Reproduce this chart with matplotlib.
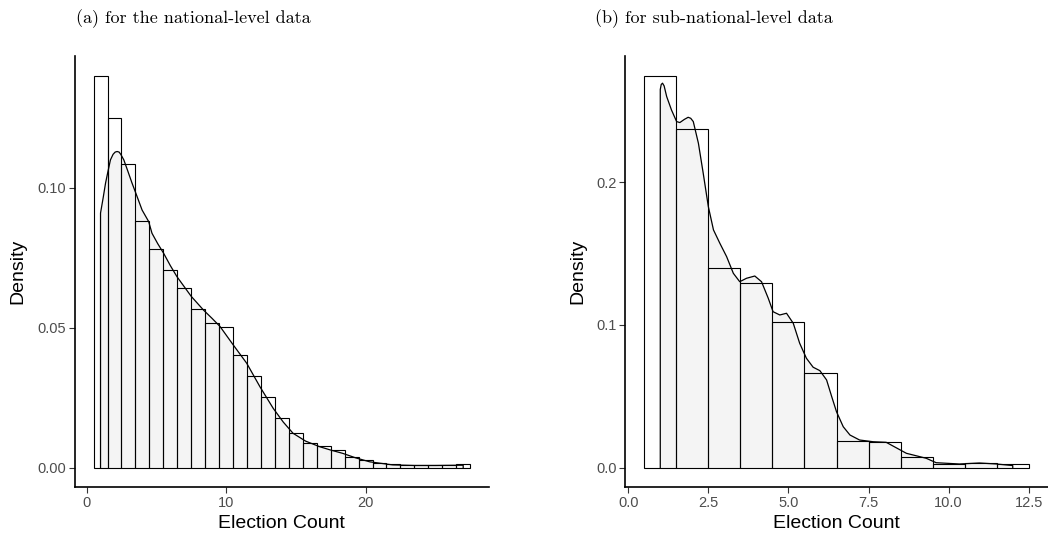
import numpy as np
import matplotlib
matplotlib.use("Agg")
from matplotlib import pyplot as plt

# histogram bins (width 1, centred on the integers) and densities
nat_edges = np.arange(0.5, 28.0, 1.0)
nat_dens = [0.140, 0.1248, 0.1085, 0.0882, 0.0781, 0.0706, 0.0643, 0.0567, 0.0517,
            0.0504, 0.0404, 0.0328, 0.0251, 0.0176, 0.0125, 0.0087, 0.0076, 0.0062,
            0.0037, 0.0026, 0.0016, 0.0012, 0.0010, 0.0009, 0.0008, 0.0008, 0.0012]

sub_edges = np.arange(0.5, 13.0, 1.0)
sub_dens = [0.2747, 0.2371, 0.1397, 0.1296, 0.1023, 0.0666, 0.0187, 0.0178,
            0.0077, 0.0024, 0.0035, 0.0024]

# kernel density curves
nat_kde_x = [1.0, 1.19, 1.36, 1.5, 1.71, 1.9, 2.05, 2.19, 2.33, 2.45, 2.67, 2.95,
             3.26, 3.57, 3.98, 4.45, 4.69, 5.1, 5.52, 6.0, 6.48, 7.5, 8.38, 9.0,
             9.57, 10.52, 11.48, 12.43, 13.38, 14.1, 14.8, 15.7, 16.71, 17.5, 18.38,
             19.3, 20.3, 21.95, 23.5, 25.0, 27.0]
nat_kde_y = [0.0909, 0.0964, 0.1016, 0.105, 0.1099, 0.1119, 0.1127, 0.1129, 0.1127,
             0.1119, 0.1099, 0.106, 0.1016, 0.0975, 0.092, 0.0879, 0.0837, 0.0800,
             0.0766, 0.0722, 0.0682, 0.0612, 0.0563, 0.0533, 0.0504, 0.0438, 0.0373,
             0.0289, 0.0212, 0.0163, 0.0123, 0.0095, 0.0075, 0.0063, 0.0051, 0.0035,
             0.0021, 0.0010, 0.0008, 0.0008, 0.0009]

sub_kde_x = [1.0, 1.03, 1.07, 1.12, 1.2, 1.35, 1.51, 1.61, 1.75, 1.87, 1.95, 2.03,
             2.19, 2.34, 2.5, 2.66, 2.86, 3.07, 3.28, 3.48, 3.69, 3.95, 4.16, 4.37,
             4.52, 4.73, 4.94, 5.15, 5.35, 5.56, 5.77, 5.98, 6.19, 6.35, 6.5, 6.71,
             6.92, 7.22, 7.64, 8.05, 8.68, 9.3, 9.61, 10.34, 10.96, 11.49, 12.0]
sub_kde_y = [0.265, 0.2685, 0.2694, 0.2675, 0.26, 0.2506, 0.2425, 0.2418, 0.244,
             0.2455, 0.2448, 0.2425, 0.2273, 0.2063, 0.1829, 0.1666, 0.1572, 0.1479,
             0.1362, 0.1303, 0.1327, 0.1343, 0.1303, 0.1187, 0.1093, 0.107, 0.1082,
             0.1012, 0.0872, 0.0767, 0.0704, 0.068, 0.0615, 0.0498, 0.0392, 0.0287,
             0.0229, 0.0194, 0.0182, 0.0178, 0.0101, 0.0066, 0.0035, 0.0026, 0.0033,
             0.0026, 0.0015]

titles = ["(a) for the national-level data", "(b) for sub-national-level data"]
x_ticks = [[0, 10, 20], [0.0, 2.5, 5.0, 7.5, 10.0, 12.5]]
x_ticklabels = [["0", "10", "20"], ["0.0", "2.5", "5.0", "7.5", "10.0", "12.5"]]
y_ticks = [[0.0, 0.05, 0.10], [0.0, 0.1, 0.2]]
y_ticklabels = [["0.00", "0.05", "0.10"], ["0.0", "0.1", "0.2"]]

plt.rcParams['font.family'] = ['Liberation Sans', 'DejaVu Sans']

fig = plt.figure(figsize=(10.48, 5.39), dpi=100)
ax1 = fig.add_axes([0.0713, 0.0959, 0.3953, 0.8002])
ax2 = fig.add_axes([0.5964, 0.0959, 0.4036, 0.8002])

panels = [(ax1, nat_edges, nat_dens, nat_kde_x, nat_kde_y, -0.137, (-0.85, 28.85)),
          (ax2, sub_edges, sub_dens, sub_kde_x, sub_kde_y, -0.111, (-0.1, 13.1))]

gray_fill = "#F4F4F4"
for k, (ax, edges, dens, kx, ky, ylab_x, xlim) in enumerate(panels):
    left = edges[:-1]
    w = np.diff(edges)
    # white bars, then the density area, then the bar outlines on top
    ax.bar(left, dens, width=w, align="edge", color="white", edgecolor="none", zorder=1)
    ax.fill_between(kx, 0, ky, color=gray_fill, lw=0, zorder=2)
    ax.bar(left, dens, width=w, align="edge", fill=False, edgecolor="black",
           linewidth=0.8, zorder=3)
    ax.plot([kx[0]] + kx + [kx[-1]], [0] + ky + [0], color="black", lw=0.9, zorder=4)

    ymax = max(dens)
    ax.set_ylim(-0.05 * ymax, 1.05 * ymax)
    ax.set_xlim(*xlim)
    ax.set_xticks(x_ticks[k])
    ax.set_xticklabels(x_ticklabels[k])
    ax.set_yticks(y_ticks[k])
    ax.set_yticklabels(y_ticklabels[k])
    ax.tick_params(colors="#333333", labelcolor="#4D4D4D", labelsize=10.5,
                   length=4, width=0.8, pad=2)

    for s in ["top", "right"]:
        ax.spines[s].set_visible(False)
    for s in ["left", "bottom"]:
        ax.spines[s].set_linewidth(1.2)

    ax.set_xlabel("Election Count", fontsize=14, va="center")
    ax.set_ylabel("Density", fontsize=14, va="center")
    ax.xaxis.set_label_coords(0.5, -0.083)
    ax.yaxis.set_label_coords(ylab_x, 0.5)

fig.text(0.184, 0.966, titles[0], family="cmr10", fontsize=13, ha="center", va="center")
fig.text(0.681, 0.966, titles[1], family="cmr10", fontsize=13, ha="center", va="center")

fig.savefig("out.png", dpi=100)
